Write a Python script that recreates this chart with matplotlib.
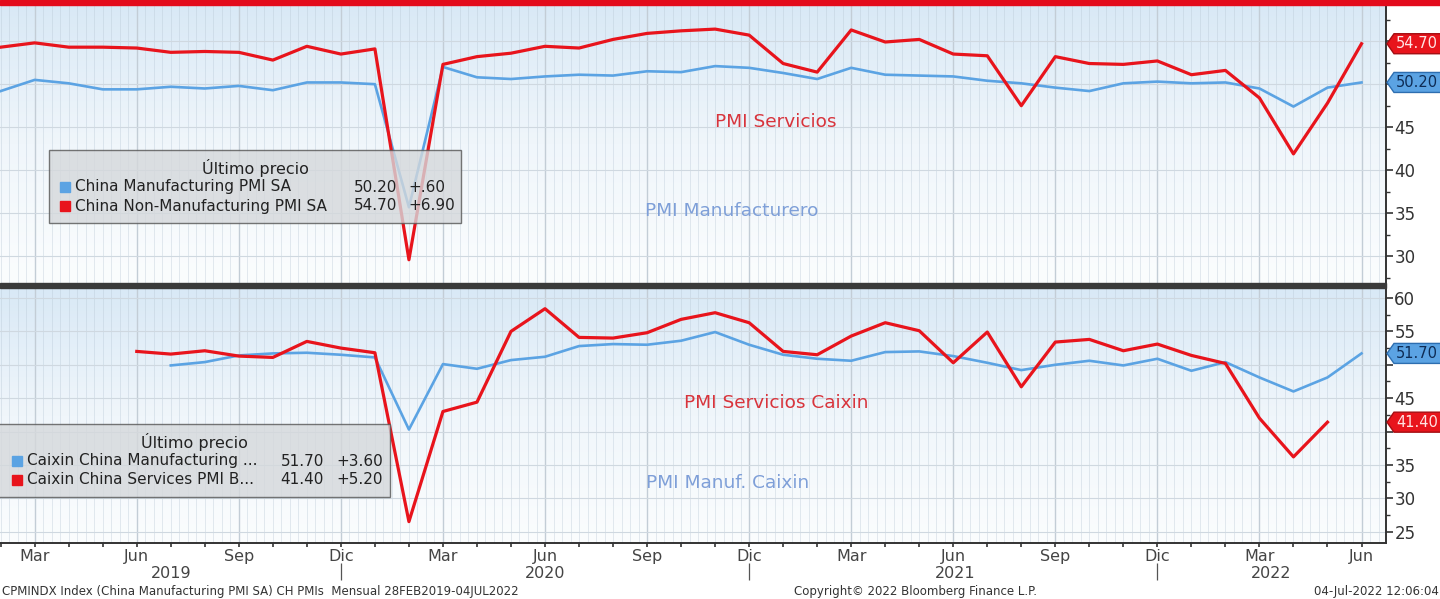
import numpy as np
import pandas as pd
import matplotlib
matplotlib.use("Agg")
import matplotlib.pyplot as plt
from matplotlib.patches import Rectangle, Polygon
from matplotlib.colors import LinearSegmentedColormap
from matplotlib.ticker import MultipleLocator

# monthly data, Feb 2019 .. Jun 2022
months = pd.date_range("2019-02-01", "2022-06-01", freq="MS")
nan = np.nan

nbs_manuf = [49.2, 50.5, 50.1, 49.4, 49.4, 49.7, 49.5, 49.8, 49.3, 50.2, 50.2,
             50.0, 35.7, 52.0, 50.8, 50.6, 50.9, 51.1, 51.0, 51.5, 51.4, 52.1, 51.9,
             51.3, 50.6, 51.9, 51.1, 51.0, 50.9, 50.4, 50.1, 49.6, 49.2, 50.1, 50.3,
             50.1, 50.2, 49.5, 47.4, 49.6, 50.2]
nbs_services = [54.3, 54.8, 54.3, 54.3, 54.2, 53.7, 53.8, 53.7, 52.8, 54.4, 53.5,
                54.1, 29.6, 52.3, 53.2, 53.6, 54.4, 54.2, 55.2, 55.9, 56.2, 56.4, 55.7,
                52.4, 51.4, 56.3, 54.9, 55.2, 53.5, 53.3, 47.5, 53.2, 52.4, 52.3, 52.7,
                51.1, 51.6, 48.4, 41.9, 47.8, 54.7]
caixin_manuf = [nan, nan, nan, nan, nan, 49.9, 50.4, 51.4, 51.7, 51.8, 51.5,
                51.1, 40.3, 50.1, 49.4, 50.7, 51.2, 52.8, 53.1, 53.0, 53.6, 54.9, 53.0,
                51.5, 50.9, 50.6, 51.9, 52.0, 51.3, 50.3, 49.2, 50.0, 50.6, 49.9, 50.9,
                49.1, 50.4, 48.1, 46.0, 48.1, 51.7]
caixin_services = [nan, nan, nan, nan, 52.0, 51.6, 52.1, 51.3, 51.1, 53.5, 52.5,
                   51.8, 26.5, 43.0, 44.4, 55.0, 58.4, 54.1, 54.0, 54.8, 56.8, 57.8, 56.3,
                   52.0, 51.5, 54.3, 56.3, 55.1, 50.3, 54.9, 46.7, 53.4, 53.8, 52.1, 53.1,
                   51.4, 50.2, 42.0, 36.2, 41.4, nan]

month_names = ["Ene", "Feb", "Mar", "Abr", "May", "Jun", "Jul", "Ago", "Sep", "Oct", "Nov", "Dic"]
years = ["2019", "2020", "2021", "2022"]

top_yticks = [30, 35, 40, 45, 50, 55]
bottom_yticks = [25, 30, 35, 40, 45, 50, 55, 60]

top_legend = [("China Manufacturing PMI SA", "50.20", "+.60"),
              ("China Non-Manufacturing PMI SA", "54.70", "+6.90")]
bottom_legend = [("Caixin China Manufacturing ...", "51.70", "+3.60"),
                 ("Caixin China Services PMI B...", "41.40", "+5.20")]

RED = "#e8141c"
BLUE = "#5ba3e3"
W, H = 1440, 599


def fx(x):
    return x / W


def fy(y):
    return 1 - y / H


fig = plt.figure(figsize=(W / 100, H / 100), dpi=100)
fig.patch.set_facecolor("white")

ax1 = fig.add_axes([0, fy(283), fx(1386), fy(5) - fy(283)])
ax2 = fig.add_axes([0, fy(543), fx(1386), fy(288) - fy(543)])

x = np.arange(len(months))
grad = LinearSegmentedColormap.from_list("bg", ["#fbfdfe", "#f0f6fb", "#d9e9f6"])
quarter_idx = [i for i, m in enumerate(months) if m.month in (3, 6, 9, 12)]

for ax in (ax1, ax2):
    ax.imshow(np.linspace(0, 1, 256).reshape(-1, 1), cmap=grad, origin="lower",
              extent=[0, 1, 0, 1], transform=ax.transAxes, aspect="auto", zorder=0)
    # weekly stripes
    ax.vlines(np.arange(-0.25, 41, 0.25), 0, 1, transform=ax.get_xaxis_transform(),
              color="#b4c4d2", lw=0.7, alpha=0.35, zorder=1)
    ax.vlines(quarter_idx, 0, 1, transform=ax.get_xaxis_transform(),
              color="#c3cdd6", lw=1.0, zorder=1)
    ax.set_xlim(-0.02, 40.72)
    ax.yaxis.tick_right()
    ax.yaxis.set_minor_locator(MultipleLocator(2.5))
    ax.tick_params(axis="y", which="major", direction="out", length=5, width=1.2,
                   colors="#333333", labelsize=12, pad=1)
    ax.tick_params(axis="y", which="minor", direction="out", length=3, width=1.0,
                   colors="#333333")
    for s in ("left", "top"):
        ax.spines[s].set_visible(False)
    ax.spines["right"].set_color("#333333")
    ax.spines["right"].set_linewidth(1.4)

ax1.plot(x, nbs_manuf, color=BLUE, lw=1.9, zorder=3)
ax1.plot(x, nbs_services, color=RED, lw=2.3, zorder=4)
ax1.set_ylim(26.9, 59.2)
ax1.set_yticks(top_yticks)
# labels 50 and 55 sit under the last-value tags
ax1.set_yticklabels([str(v) if v < 50 else "" for v in top_yticks])
for yv in top_yticks:
    ax1.axhline(yv, color="#cfd8e0", lw=0.8, zorder=1)
ax1.spines["bottom"].set_visible(False)
ax1.set_xticks([])

ax2.plot(x, caixin_manuf, color=BLUE, lw=1.9, zorder=3)
ax2.plot(x, caixin_services, color=RED, lw=2.3, zorder=4)
ax2.set_ylim(23.3, 61.5)
ax2.set_yticks(bottom_yticks)
ax2.set_yticklabels([str(v) if v not in (40, 50) else "" for v in bottom_yticks])
for yv in bottom_yticks:
    ax2.axhline(yv, color="#cfd8e0", lw=0.8, zorder=1)
ax2.spines["bottom"].set_color("#333333")
ax2.spines["bottom"].set_linewidth(1.4)
ax2.set_xticks(quarter_idx)
ax2.set_xticklabels([month_names[months[i].month - 1] for i in quarter_idx])
ax2.set_xticks(x, minor=True)
ax2.tick_params(axis="x", which="both", direction="out", length=3, width=1.2,
                colors="#333333", labelsize=11.5, pad=1)
ax2.tick_params(axis="x", which="major", labelcolor="#444444")

# year labels and separators
year_pos = [5.0, 16.0, 28.05, 37.35]
for xp, yr in zip(year_pos, years):
    ax2.text(xp, -0.118, yr, transform=ax2.get_xaxis_transform(), ha="center",
             va="center", fontsize=11.5, color="#444444")
dec_idx = [i for i, m in enumerate(months) if m.month == 12]
ax2.vlines(dec_idx, -0.145, -0.078, transform=ax2.get_xaxis_transform(),
           color="#555555", lw=0.9, clip_on=False)

# top red bar and panel divider
fig.patches.append(Rectangle((0, fy(5)), 1, 5 / H, transform=fig.transFigure,
                             color="#e30b1c", zorder=5))
fig.patches.append(Rectangle((0, fy(288)), fx(1386), 5 / H, transform=fig.transFigure,
                             color="#3a3a3a", zorder=5))

# series annotations
fig.text(fx(776), fy(122), "PMI Servicios", color="#d8343c", fontsize=13.3,
         ha="center", va="center")
fig.text(fx(732), fy(211), "PMI Manufacturero", color="#7e9fd8", fontsize=13.3,
         ha="center", va="center")
fig.text(fx(776), fy(403), "PMI Servicios Caixin", color="#d8343c", fontsize=13.3,
         ha="center", va="center")
fig.text(fx(728), fy(483), "PMI Manuf. Caixin", color="#7e9fd8", fontsize=13.3,
         ha="center", va="center")


def legend_box(x0, y0, x1, y1, title, rows, sq_x, txt_x, val_x, chg_x):
    fig.patches.append(Rectangle((fx(x0), fy(y1)), fx(x1 - x0), (y1 - y0) / H,
                                 transform=fig.transFigure, fc="#d5d8db", ec="#555555",
                                 lw=1.0, alpha=0.8, zorder=6))
    fig.text(fx((x0 + x1) / 2), fy(y0 + 18), title, fontsize=11.5, color="#222222",
             ha="center", va="center", zorder=7)
    for k, (name, val, chg) in enumerate(rows):
        yy = y0 + 37 + k * 19
        col = BLUE if k == 0 else RED
        fig.patches.append(Rectangle((fx(sq_x), fy(yy + 5)), fx(10), 10 / H,
                                     transform=fig.transFigure, color=col, zorder=7))
        fig.text(fx(txt_x), fy(yy), name, fontsize=11, color="#222222",
                 ha="left", va="center", zorder=7)
        fig.text(fx(val_x), fy(yy), val, fontsize=11, color="#222222",
                 ha="right", va="center", zorder=7)
        fig.text(fx(chg_x), fy(yy), chg, fontsize=11, color="#222222",
                 ha="left", va="center", zorder=7)


legend_box(49, 150, 461, 223, "Último precio", top_legend, 60, 75, 397, 408)
legend_box(-2, 424, 390, 497, "Último precio", bottom_legend, 12, 27, 324, 336)


def value_tag(ax, val, fc, ec, tc):
    fig.canvas.draw()
    ypix = ax.transData.transform((0, val))[1]
    ylab = H - ypix
    pts = [(1387, ylab), (1394, ylab - 10), (1445, ylab - 10),
           (1445, ylab + 10), (1394, ylab + 10)]
    fig.patches.append(Polygon([(fx(a), fy(b)) for a, b in pts], closed=True,
                               transform=fig.transFigure, fc=fc, ec=ec, lw=1.0, zorder=8))
    fig.text(fx(1396), fy(ylab), f"{val:.2f}", fontsize=10.5, color=tc,
             ha="left", va="center", zorder=9)


value_tag(ax1, nbs_services[-1], RED, "#a40d12", "#ffe4e4")
value_tag(ax1, nbs_manuf[-1], BLUE, "#2d6eb0", "#0e2c55")
value_tag(ax2, caixin_manuf[-1], BLUE, "#2d6eb0", "#0e2c55")
value_tag(ax2, caixin_services[-2], RED, "#a40d12", "#ffe4e4")

# footer
fig.text(fx(2), fy(591), "CPMINDX Index (China Manufacturing PMI SA) CH PMIs  Mensual 28FEB2019-04JUL2022",
         fontsize=8.5, color="#333333", ha="left", va="center")
fig.text(fx(916), fy(591), "Copyright© 2022 Bloomberg Finance L.P.", fontsize=8.5,
         color="#333333", ha="center", va="center")
fig.text(fx(1439), fy(591), "04-Jul-2022 12:06:04", fontsize=8.5, color="#333333",
         ha="right", va="center")

fig.savefig("out.png", dpi=100)
